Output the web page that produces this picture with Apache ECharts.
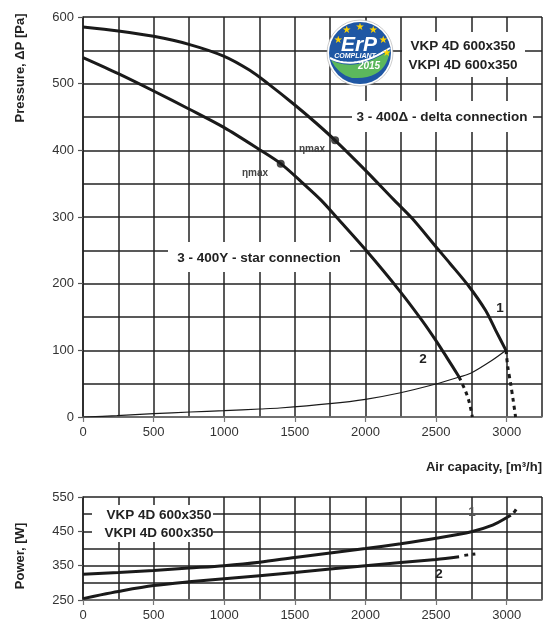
<!DOCTYPE html>
<html><head><meta charset="utf-8">
<script src="https://cdn.jsdelivr.net/npm/echarts@6/dist/echarts.min.js"></script>
<style>html,body{margin:0;padding:0;background:#fff}#c{width:548px;height:630px}</style>
</head><body><div id="c"></div>
<script>
const xTicks = [0, 500, 1000, 1500, 2000, 2500, 3000];
const pressureTicks = [0, 100, 200, 300, 400, 500, 600];
const powerTicks = [250, 350, 450, 550];

const deltaCurve = [[0,585],[250,579],[500,571],[750,559],[1000,541],[1181,520],[1310,500],[1500,468],[1650,441],[1785,415],[2000,370],[2200,326],[2330,298],[2500,255],[2600,230],[2736,195],[2850,160],[2922,130],[2995,100]];
const deltaStall = [[2995,100],[3008,75],[3028,50],[3046,25],[3063,0]];
const starCurve = [[0,539],[250,515],[500,489],[750,462],[1000,434],[1250,401],[1400,380],[1550,352],[1687,325],[1802,298],[2004,250],[2239,190],[2400,145],[2498,115],[2580,88],[2663,60]];
const starStall = [[2663,60],[2710,38],[2735,22],[2757,0]];
const systemCurve = [[0,0],[240,2],[500,5],[758,7.5],[1000,9.5],[1252,12],[1393,13.5],[1747,20],[2000,26.5],[2240,36],[2498,49.5],[2663,60],[2745,65.5],[2897,85],[2995,100]];
const etaMax = [[1785,415],[1400,380]];

const power1 = [[0,325],[250,330],[500,336],[750,343],[1000,350],[1250,360],[1500,374],[1750,387],[2000,400],[2250,414],[2500,430],[2750,449],[2900,468],[3004,491]];
const power1Stall = [[3004,491],[3045,502],[3070,516]];
const power2 = [[0,254],[125,265],[250,275],[500,292],[750,303],[1000,312],[1500,330],[2000,350],[2500,368],[2663,376]];
const power2Stall = [[2700,380],[2778,384]];

const FF = '"Liberation Sans", Arial, sans-serif';
const chart = echarts.init(document.getElementById('c'), null, {renderer:'canvas'});

function xAx(grid){
  return {gridIndex:grid, type:'value', min:0, max:3250, interval:250,
    axisLine:{show:true, onZero:false, lineStyle:{color:'#777', width:1.5}},
    axisTick:{show:false},
    axisLabel:{color:'#333', fontSize:13, fontFamily:FF, margin:9,
      formatter:function(v){ return v % 500 === 0 ? String(v) : ''; }},
    splitLine:{show:true, lineStyle:{color:'#222', width:1.5}}};
}
function xTickAx(grid){
  return {gridIndex:grid, type:'value', min:0, max:3250, position:'bottom',
    axisLine:{show:false, onZero:false}, axisLabel:{show:false}, splitLine:{show:false},
    axisTick:{show:true, customValues:xTicks, length:5, lineStyle:{color:'#777', width:1.2}}};
}
function yAx(grid, min, max, labelStep){
  return {gridIndex:grid, type:'value', min:min, max:max, interval:50,
    axisLine:{show:true, onZero:false, lineStyle:{color:'#222', width:1.5}},
    axisTick:{show:false},
    axisLabel:{color:'#333', fontSize:13, fontFamily:FF, margin:9,
      formatter:function(v){ return (v - min) % labelStep === 0 ? String(v) : ''; }},
    splitLine:{show:true, lineStyle:{color:'#222', width:1.5}}};
}
function yTickAx(grid, min, max, ticks){
  return {gridIndex:grid, type:'value', min:min, max:max, position:'left',
    axisLine:{show:false, onZero:false}, axisLabel:{show:false}, splitLine:{show:false},
    axisTick:{show:true, customValues:ticks, length:5, lineStyle:{color:'#555', width:1.2}}};
}
function line(data, ai, w, dashed){
  return {type:'line', xAxisIndex:ai, yAxisIndex:ai, data:data, smooth:0.3, showSymbol:false, symbol:'none',
    lineStyle:{color:'#1a1a1a', width:w, type: dashed ? [4,4] : 'solid', cap:'butt'}, z:3, silent:true, animation:false};
}
function box(x,y,w,h){ return {type:'rect', shape:{x:x,y:y,width:w,height:h}, style:{fill:'#fff'}, z:1}; }
function txt(x,y,t,font,opts){
  opts = opts||{};
  return {type:'text', x:x, y:y, rotation:opts.rot||0, z:opts.z||4,
    style:{text:t, font:font, fill:opts.fill||'#222', align:opts.align||'center', verticalAlign:'middle'}};
}
function star(x,y){ return txt(x,y,'★','10px "DejaVu Sans"',{fill:'#ffd400', z:8}); }
function quad(p0,c,p1,n){
  const out=[];
  for(let i=0;i<=n;i++){const t=i/n,u=1-t;out.push([u*u*p0[0]+2*u*t*c[0]+t*t*p1[0], u*u*p0[1]+2*u*t*c[1]+t*t*p1[1]]);}
  return out;
}
const leafTop = quad([331,60],[355,73],[390,50],16);
const leafBot = quad([390,50],[386,80],[352,78],12).concat(quad([352,78],[338,74],[331,60],8));
const swoosh = quad([330,58],[355,71],[390,48],16);

const B13 = 'bold 13.5px ' + FF;
chart.setOption({
  animation:false,
  textStyle:{fontFamily:FF},
  grid:[{left:83, top:17, width:459, height:400},{left:83, top:497, width:459, height:103}],
  xAxis:[xAx(0), xAx(1), xTickAx(0), xTickAx(1)],
  yAxis:[yAx(0,0,600,100), yAx(1,250,550,100), yTickAx(0,0,600,pressureTicks), yTickAx(1,250,550,powerTicks)],
  series:[
    line(deltaCurve,0,3,false), line(deltaStall,0,3,true),
    line(starCurve,0,3,false), line(starStall,0,3,true),
    line(systemCurve,0,1.2,false),
    {type:'scatter', xAxisIndex:0, yAxisIndex:0, data:etaMax, symbolSize:8, itemStyle:{color:'#1a1a1a'}, z:4, silent:true},
    line(power1,1,3,false), line(power1Stall,1,3,true),
    line(power2,1,3,false), line(power2Stall,1,3,true)
  ],
  graphic:[
    box(402,32,123,45), box(352,101,181,31), box(168,242,182,30), box(92,505,121,37),
    txt(463,46,'VKP 4D 600x350',B13), txt(463,65,'VKPI 4D 600x350',B13),
    txt(442,117,'3 - 400Δ - delta connection',B13),
    txt(259,258,'3 - 400Y - star connection',B13),
    txt(159,515,'VKP 4D 600x350',B13), txt(159,533,'VKPI 4D 600x350',B13),
    txt(312,149,'ηmax','bold 10px '+FF,{fill:'#444'}),
    txt(255,173,'ηmax','bold 10px '+FF,{fill:'#444'}),
    txt(500,308,'1',B13), txt(423,359,'2',B13),
    txt(472,512,'1',B13,{fill:'#555'}), txt(439,574,'2',B13),
    txt(542,467,'Air capacity, [m³/h]','bold 13px '+FF,{align:'right'}),
    txt(20,68,'Pressure, ΔP [Pa]','bold 13px '+FF,{rot:Math.PI/2}),
    txt(20,556,'Power, [W]','bold 13px '+FF,{rot:Math.PI/2}),
    {type:'circle', shape:{cx:360,cy:53,r:33}, style:{fill:'#fff', stroke:'#aaa', lineWidth:0.6}, z:5},
    {type:'circle', shape:{cx:360,cy:53,r:31}, style:{fill:'#1f57a4'}, z:6},
    {type:'polygon', shape:{points:leafTop.concat(leafBot)}, style:{fill:'#5cb85c'}, z:7},
    {type:'polyline', shape:{points:swoosh}, style:{stroke:'#fff', lineWidth:2}, z:7},
    star(346.7,30), star(360,27.5), star(373.3,30), star(338.3,40), star(383.3,40), star(386.7,53),
    txt(359,45,'ErP','italic bold 21px '+FF,{fill:'#fff', z:9}),
    txt(355,56,'COMPLIANT','italic bold 7px '+FF,{fill:'#fff', z:9}),
    txt(369,66,'2015','italic bold 10px '+FF,{fill:'#fff', z:9})
  ]
});
</script></body></html>
